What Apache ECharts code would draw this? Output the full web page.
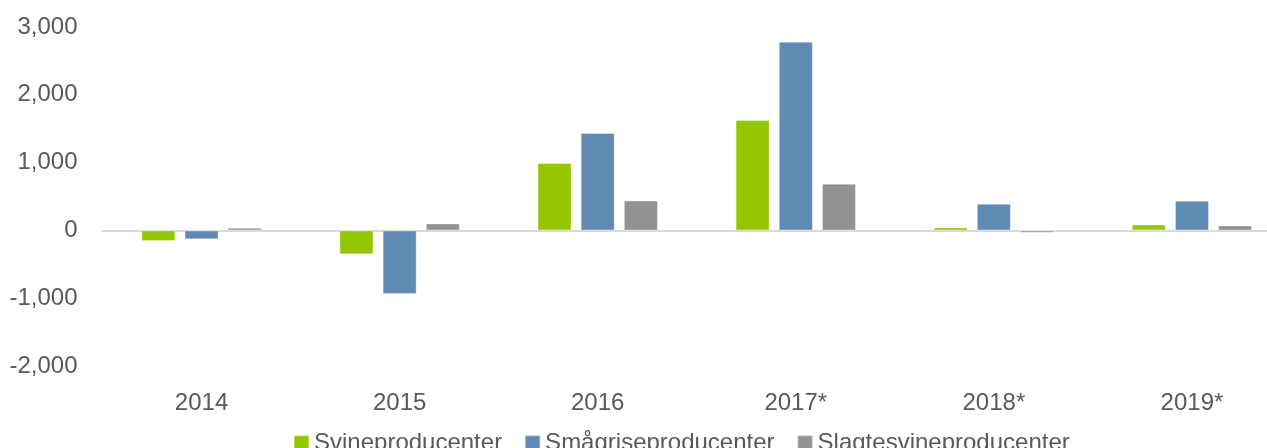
<!DOCTYPE html>
<html>
<head>
<meta charset="utf-8">
<script src="https://cdn.jsdelivr.net/npm/echarts@6/dist/echarts.min.js"></script>
<style>
	html, body { margin: 0; padding: 0; background: #fff; overflow: hidden; }
	#chart { width: 1291px; height: 448px; }
</style>
</head>
<body>
<div id="chart"></div>
<script>
var years = ['2014', '2015', '2016', '2017*', '2018*', '2019*'];
var svine = [-157, -350, 995, 1628, 44, 88];
var smaagrise = [-132, -937, 1437, 2784, 392, 437];
var slagtesvine = [40, 103, 441, 687, -34, 74];
var seriesNames = ['Svineproducenter', 'Smågriseproducenter', 'Slagtesvineproducenter'];

// the plot runs past the right edge of the window, like the cropped original
var myChart = echarts.init(document.getElementById('chart'));
var font = 'Liberation Sans, Arial, sans-serif';

function bar(name, data, color) {
	return {
		name: name,
		type: 'bar',
		data: data,
		barWidth: 34,
		barGap: '27%',
		itemStyle: { color: color, borderColor: 'rgba(255,255,255,0.35)', borderWidth: 1 }
	};
}

var option = {
	animation: false,
	grid: { left: 102.5, right: 0, top: 27, bottom: 82, containLabel: false },
	legend: {
		left: 288,
		top: 426,
		itemWidth: 15,
		itemHeight: 15,
		itemGap: 22,
		icon: 'rect',
		textStyle: { fontFamily: font, fontSize: 24, color: '#595959' },
		data: seriesNames
	},
	xAxis: {
		type: 'category',
		data: years,
		axisLine: { onZero: true, lineStyle: { color: '#d9d9d9', width: 2 } },
		axisTick: { show: false },
		axisLabel: { margin: 25, fontFamily: font, fontSize: 24, color: '#595959', interval: 0 }
	},
	yAxis: {
		type: 'value',
		min: -2000,
		max: 3000,
		interval: 1000,
		splitLine: { show: false },
		axisLine: { show: false },
		axisTick: { show: false },
		axisLabel: {
			margin: 25,
			fontFamily: font,
			fontSize: 24,
			color: '#595959',
			formatter: function (v) { return v.toLocaleString('en-US'); }
		}
	},
	series: [
		bar(seriesNames[0], svine, '#94c600'),
		bar(seriesNames[1], smaagrise, '#5e8ab4'),
		bar(seriesNames[2], slagtesvine, '#929292')
	]
};
myChart.setOption(option);
</script>
</body>
</html>
